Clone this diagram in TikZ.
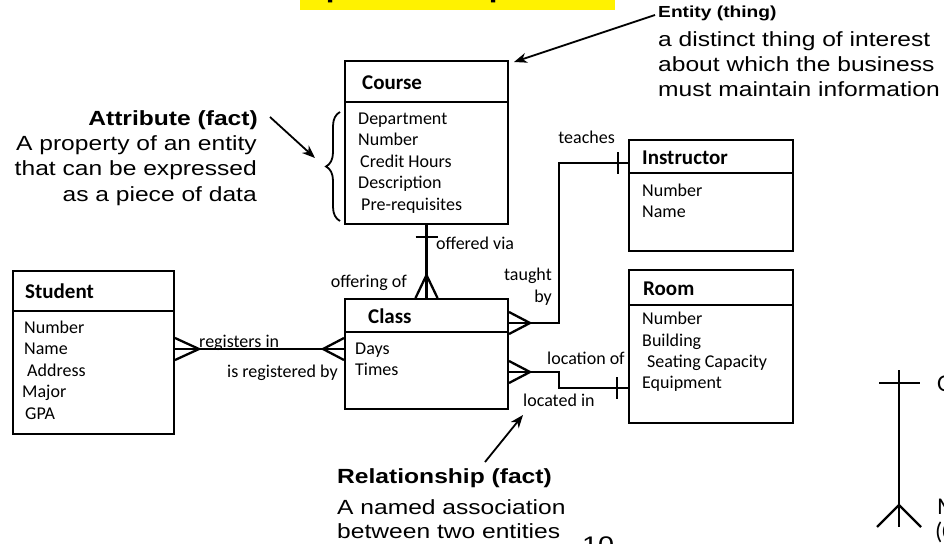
\documentclass[tikz,border=0pt]{standalone}
\usepackage{fontspec}
\newfontfamily\af[FakeStretch=1.2]{Liberation Sans}
\newfontfamily\cf{Carlito}
\usetikzlibrary{arrows.meta,calc,decorations.pathreplacing}
\begin{document}
\begin{tikzpicture}[x=1pt,y=-1pt,
  ebox/.style={draw, line width=2pt, rectangle, inner sep=0pt, anchor=north west},
  hdr/.style={font=\cf\bfseries\fontsize{21}{24}\selectfont, anchor=base west, inner sep=0pt},
  attr/.style={font=\cf\fontsize{18}{21}\selectfont, anchor=base west, inner sep=0pt},
  lbl/.style={font=\cf\fontsize{18}{21}\selectfont, inner sep=0pt},
  conn/.style={line width=2.3pt},
  divl/.style={line width=2pt},
  note/.style={font=\af\fontsize{20.5}{25}\selectfont, inner sep=0pt},
  notet/.style={font=\af\bfseries\fontsize{20.5}{25}\selectfont, inner sep=0pt},
  ann/.style={line width=1.8pt, -{Stealth[length=13pt,width=10pt,inset=4pt]}},
  leg/.style={font=\cf\fontsize{24}{28}\selectfont, anchor=base west, inner sep=0pt},
]
\useasboundingbox (0,0) rectangle (944,543);
\fill[white] (0,0) rectangle (944,543);
\clip (0,0) rectangle (944,543);

% title (cut off at top)
\fill[yellow] (300,-5) rectangle (615,10);
\node[anchor=base west, inner sep=0pt, font=\af\bfseries\fontsize{26}{30}\selectfont] (title) at (272,-2) {Graphical components};

% entity boxes
\node[ebox, minimum width=163pt, minimum height=163pt] (course) at (344,60) {};
\node[ebox, minimum width=161pt, minimum height=163pt] (student) at (12,270) {};
\node[ebox, minimum width=163pt, minimum height=110pt] (class) at (344,298) {};
\node[ebox, minimum width=164pt, minimum height=111pt] (instr) at (628,139) {};
\node[ebox, minimum width=164pt, minimum height=153pt] (room) at (628,269) {};

\draw[divl] (course.west |- 0,102) -- (course.east |- 0,102);
\draw[divl] (student.west |- 0,311) -- (student.east |- 0,311);
\draw[divl] (class.west |- 0,332) -- (class.east |- 0,332);
\draw[divl] (instr.west |- 0,173) -- (instr.east |- 0,173);
\draw[divl] (room.west |- 0,305) -- (room.east |- 0,305);

% headers
\node[hdr] (courseH) at (362,89) {Course};
\node[hdr] (studentH) at (25,298) {Student};
\node[hdr] (classH) at (368,323) {Class};
\node[hdr] (instrH) at (642,164) {Instructor};
\node[hdr] (roomH) at (643,295) {Room};

% attributes
\foreach \t/\x/\y [count=\i] in {Department/358/124, Number/358/145.5, Credit Hours/360/167, Description/358/188.5, Pre-requisites/361/210}
  \node[attr] (courseA\i) at (\x,\y) {\t};
\foreach \t/\x/\y [count=\i] in {Number/24/333, Name/24/354.5, Address/27/376, Major/22/397.5, GPA/25/419}
  \node[attr] (studentA\i) at (\x,\y) {\t};
\foreach \t/\x/\y [count=\i] in {Days/355/354, Times/355/375}
  \node[attr] (classA\i) at (\x,\y) {\t};
\foreach \t/\x/\y [count=\i] in {Number/642/196, Name/642/217}
  \node[attr] (instrA\i) at (\x,\y) {\t};
\foreach \t/\x/\y [count=\i] in {Number/642/324, Building/642/346, Seating Capacity/647/367, Equipment/642/388}
  \node[attr] (roomA\i) at (\x,\y) {\t};

% Course - Class
\draw[conn] (course.south) -- (class.north);
\draw[conn] ($(course.south)+(-11,12)$) -- ++(22,0);
\draw[conn] ($(class.north)+(-11,0)$) -- ($(class.north)+(0,-23)$) -- ($(class.north)+(11,0)$);

% Student - Class
\coordinate (sR) at (student.east |- 0,349);
\coordinate (cL) at (class.west |- 0,349);
\draw[conn] (sR) -- (cL);
\draw[conn] ($(sR)+(0,-11)$) -- ($(sR)+(24,0)$) -- ($(sR)+(0,11)$);
\draw[conn] ($(cL)+(0,-11)$) -- ($(cL)+(-21,0)$) -- ($(cL)+(0,11)$);

% Class - Instructor
\coordinate (cR1) at (class.east |- 0,323);
\coordinate (iL) at (instr.west |- 0,163);
\draw[conn] (cR1) -- (559,323) |- (iL);
\draw[conn] ($(cR1)+(0,-11)$) -- ($(cR1)+(21,0)$) -- ($(cR1)+(0,11)$);
\draw[conn] ($(iL)+(-10,-11)$) -- ++(0,22);

% Class - Room
\coordinate (cR2) at (class.east |- 0,372);
\coordinate (rL) at (room.west |- 0,388);
\draw[conn] (cR2) -- (559,372) |- (rL);
\draw[conn] ($(cR2)+(0,-11)$) -- ($(cR2)+(21,0)$) -- ($(cR2)+(0,11)$);
\draw[conn] ($(rL)+(-11,-11)$) -- ++(0,22);

% relationship labels
\node[lbl, anchor=base east] (teaches) at (615,143) {teaches};
\node[lbl, anchor=base east] (taught) at (552,280) {taught};
\node[lbl, anchor=base east] (by) at (552,302) {by};
\node[lbl, anchor=base west] (offvia) at (436,249) {offered via};
\node[lbl, anchor=base east] (offof) at (407,287) {offering of};
\node[lbl, anchor=base west] (regin) at (199,347) {registers in};
\node[lbl, anchor=base west] (regby) at (227,377) {is registered by};
\node[lbl, anchor=base west] (locof) at (547,364) {location of};
\node[lbl, anchor=base west] (locin) at (523,406) {located in};

% Attribute annotation
\node[notet, anchor=base east] (attT) at (258,125) {Attribute (fact)};
\node[note, anchor=base east] (att1) at (257,150) {A property of an entity};
\node[note, anchor=base east] (att2) at (257,175.5) {that can be expressed};
\node[note, anchor=base east] (att3) at (257,201) {as a piece of data};
\draw[line width=1.8pt, decorate, decoration={brace, amplitude=14pt, aspect=0.5}] (340,221) -- (340,112);
\coordinate (attS) at (270,117);
\coordinate (attE) at (315,158);
\draw[ann] (attS) -- (attE);

% Entity annotation
\node[anchor=base west, inner sep=0pt, font=\af\bfseries\fontsize{16}{20}\selectfont] (entT) at (658,18) {Entity (thing)};
\node[note, anchor=base west] (ent1) at (658,46) {a distinct thing of interest};
\node[note, anchor=base west] (ent2) at (658,71) {about which the business};
\node[note, anchor=base west] (ent3) at (658,96) {must maintain information};
\coordinate (entS) at (655,15);
\draw[ann] (entS) -- ($(course.north east)+(5,2)$);

% Relationship annotation
\node[notet, anchor=base west] (relT) at (337,483) {Relationship (fact)};
\node[note, anchor=base west] (rel1) at (337,514) {A named association};
\node[note, anchor=base west] (rel2) at (337,538) {between two entities};
\coordinate (relS) at (485,462);
\coordinate (relE) at (523,415);
\draw[ann] (relS) -- (relE);

% page number (cut off)
\node[anchor=base west, inner sep=0pt, font=\af\fontsize{24}{28}\selectfont] (pg) at (582,553) {10};

% legend (cut off at right)
\coordinate (lgTop) at (899,370);
\coordinate (lgBot) at (899,527);
\draw[conn] (lgTop) -- (lgBot);
\draw[conn] (879,383) -- (920,383);
\draw[conn] (877,527) -- (899,505) -- (921,527);
\node[leg] (lgOne) at (937,391) {One};
\node[leg] (lgMany) at (937,514) {Many};
\node[leg] (lgMany2) at (935,539) {(0 or more)};
\end{tikzpicture}
\end{document}
